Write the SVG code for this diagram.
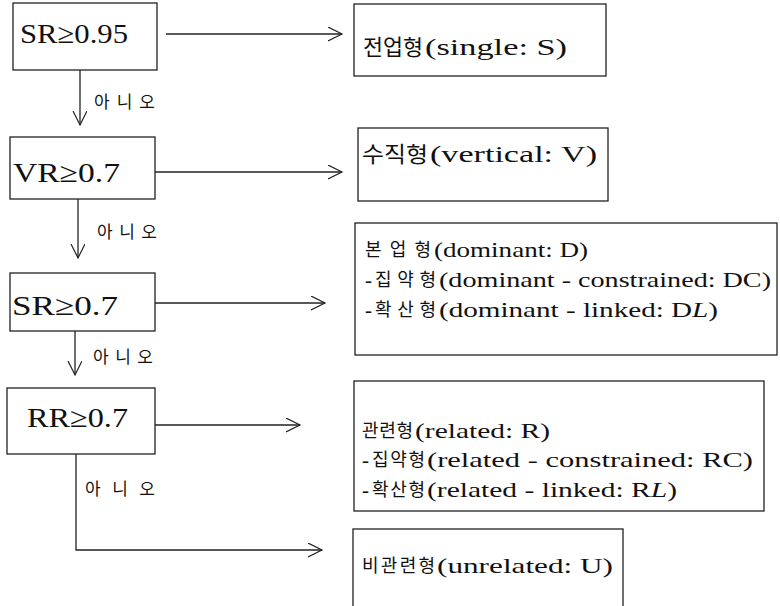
<svg xmlns="http://www.w3.org/2000/svg" width="780" height="606" viewBox="0 0 780 606">
  <defs>
    <style>
      .box { fill: #ffffff; stroke: #222222; stroke-width: 1.3; }
      .edge { fill: none; stroke: #222222; stroke-width: 1.3; }
      text { font-family: "Liberation Serif", "Times New Roman", serif; fill: #111111; }
      .ko { font-family: "Noto Sans CJK KR", "Noto Sans CJK SC", sans-serif; }
      .cond { font-size: 28px; }
      .big { font-size: 24px; }
      .bigko { font-size: 22px; }
      .sm { font-size: 21px; }
      .smko { font-size: 18px; }
      .no { font-size: 17px; }
    </style>
    <marker id="open" markerUnits="userSpaceOnUse" markerWidth="16" markerHeight="16" refX="14" refY="7" orient="auto">
      <path d="M0,0 L14,7 L0,14" fill="none" stroke="#222222" stroke-width="1.2"/>
    </marker>
  </defs>

  <rect width="780" height="606" fill="#ffffff"/>

  <!-- connectors -->
  <g id="connectors">
    <line class="edge" x1="166" y1="34" x2="342" y2="34" marker-end="url(#open)"/>
    <line class="edge" x1="155" y1="172" x2="342" y2="172" marker-end="url(#open)"/>
    <line class="edge" x1="155" y1="303" x2="325" y2="303" marker-end="url(#open)"/>
    <line class="edge" x1="155" y1="425" x2="300" y2="425" marker-end="url(#open)"/>
    <line class="edge" x1="80" y1="70" x2="80" y2="125" marker-end="url(#open)"/>
    <line class="edge" x1="78" y1="199" x2="78" y2="258" marker-end="url(#open)"/>
    <line class="edge" x1="75" y1="331" x2="75" y2="375" marker-end="url(#open)"/>
    <path class="edge" d="M76,454 V550 H322" marker-end="url(#open)"/>
    <text class="no ko" x="94" y="108" textLength="61" lengthAdjust="spacing">아니오</text>
    <text class="no ko" x="97" y="238" textLength="60" lengthAdjust="spacing">아니오</text>
    <text class="no ko" x="93" y="363" textLength="60" lengthAdjust="spacing">아니오</text>
    <text class="no ko" x="85" y="495" textLength="70" lengthAdjust="spacing">아니오</text>
  </g>

  <!-- decision boxes -->
  <g id="cond-sr95">
    <rect class="box" x="13" y="3" width="144" height="67"/>
    <text class="cond" x="20" y="43" textLength="108" lengthAdjust="spacingAndGlyphs">SR≥0.95</text>
  </g>
  <g id="cond-vr">
    <rect class="box" x="10" y="137" width="145" height="62"/>
    <text class="cond" x="13" y="182" textLength="107" lengthAdjust="spacingAndGlyphs">VR≥0.7</text>
  </g>
  <g id="cond-sr7">
    <rect class="box" x="10" y="273" width="145" height="58"/>
    <text class="cond" x="12" y="315" textLength="106" lengthAdjust="spacingAndGlyphs">SR≥0.7</text>
  </g>
  <g id="cond-rr">
    <rect class="box" x="7" y="388" width="148" height="66"/>
    <text class="cond" x="27" y="427" textLength="101" lengthAdjust="spacingAndGlyphs">RR≥0.7</text>
  </g>

  <!-- result boxes -->
  <g id="res-single">
    <rect class="box" x="354" y="4" width="252" height="72"/>
    <text class="ko bigko" x="363" y="55" textLength="60" lengthAdjust="spacingAndGlyphs">전업형</text>
    <text class="big" x="425" y="55" textLength="142" lengthAdjust="spacingAndGlyphs">(single:  S)</text>
  </g>
  <g id="res-vertical">
    <rect class="box" x="358" y="128" width="250" height="73"/>
    <text class="ko bigko" x="362" y="162" textLength="66" lengthAdjust="spacingAndGlyphs">수직형</text>
    <text class="big" x="430" y="162" textLength="167" lengthAdjust="spacingAndGlyphs">(vertical:  V)</text>
  </g>
  <g id="res-dominant">
    <rect class="box" x="355" y="223" width="422" height="132"/>
    <text class="ko smko" x="365" y="256" textLength="66" lengthAdjust="spacing">본업형</text>
    <text class="sm" x="434" y="257" textLength="154" lengthAdjust="spacingAndGlyphs">(dominant:  D)</text>
    <text class="sm" x="365" y="287">-</text>
    <text class="ko smko" x="375" y="286" textLength="61" lengthAdjust="spacing">집약형</text>
    <text class="sm" x="439" y="287" textLength="332" lengthAdjust="spacingAndGlyphs">(dominant  -  constrained:  DC)</text>
    <text class="sm" x="365" y="317">-</text>
    <text class="ko smko" x="375" y="316" textLength="61" lengthAdjust="spacing">확산형</text>
    <text class="sm" x="439" y="317" textLength="279" lengthAdjust="spacingAndGlyphs">(dominant  -  linked:  D<tspan font-style="italic">L</tspan>)</text>
  </g>
  <g id="res-related">
    <rect class="box" x="354" y="381" width="410" height="130"/>
    <text class="ko smko" x="362" y="437" textLength="51" lengthAdjust="spacing">관련형</text>
    <text class="sm" x="415" y="438" textLength="135" lengthAdjust="spacingAndGlyphs">(related:  R)</text>
    <text class="sm" x="362" y="467">-</text>
    <text class="ko smko" x="372" y="466" textLength="53" lengthAdjust="spacing">집약형</text>
    <text class="sm" x="427" y="467" textLength="326" lengthAdjust="spacingAndGlyphs">(related  -  constrained:  RC)</text>
    <text class="sm" x="362" y="497">-</text>
    <text class="ko smko" x="372" y="496" textLength="53" lengthAdjust="spacing">확산형</text>
    <text class="sm" x="427" y="497" textLength="250" lengthAdjust="spacingAndGlyphs">(related  -  linked:  R<tspan font-style="italic">L</tspan>)</text>
  </g>
  <g id="res-unrelated">
    <rect class="box" x="353" y="529" width="270" height="100"/>
    <text class="ko smko" x="362" y="572" textLength="73" lengthAdjust="spacing">비관련형</text>
    <text class="sm" x="437" y="573" textLength="176" lengthAdjust="spacingAndGlyphs">(unrelated:  U)</text>
  </g>
</svg>
